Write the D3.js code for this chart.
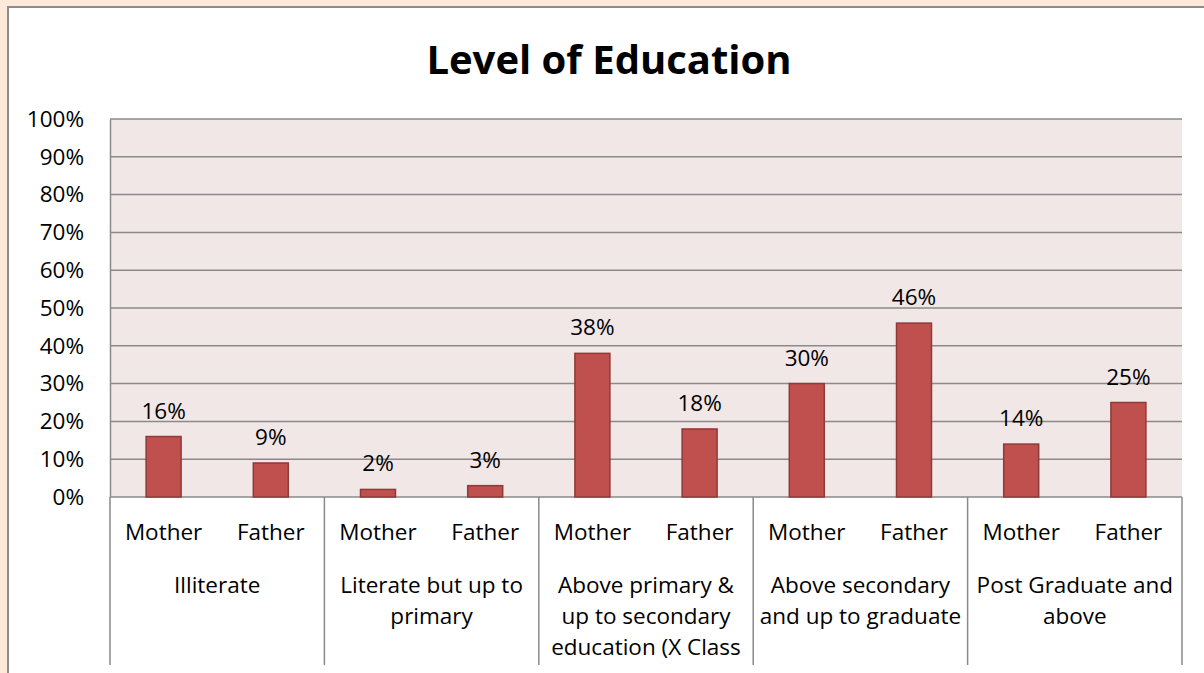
<!DOCTYPE html>
<html>
<head>
<meta charset="utf-8">
<script src="https://cdn.jsdelivr.net/npm/d3@7"></script>
<style>
  body { margin: 0; background: #fde9d9; }
  svg { display: block; font-family: "Open Sans", "Noto Sans", sans-serif; }
</style>
</head>
<body>
<div id="chart"></div>
<script>
// Data
const categories = [
  ["Illiterate"],
  ["Literate but up to", "primary"],
  ["Above primary &", "up to secondary", "education (X Class"],
  ["Above secondary", "and up to graduate"],
  ["Post Graduate and", "above"]
];
const groups = ["Mother", "Father"];
const mother = [16, 2, 38, 30, 14];
const father = [9, 3, 18, 46, 25];
const yTicks = [0, 10, 20, 30, 40, 50, 60, 70, 80, 90, 100];

const width = 1204, height = 673;
const plot = { left: 110, right: 1182, top: 119, bottom: 497 };
const fontSize = "22.5px";

let svg = d3.select("#chart").append("svg")
    .attr("width", width)
    .attr("height", height);

// white chart box
svg.append("rect")
    .attr("x", 8).attr("y", 7)
    .attr("width", 1220).attr("height", 700)
    .attr("fill", "#ffffff")
    .attr("stroke", "#8c8c8c")
    .attr("stroke-width", 2);

// Title
svg.append("text")
    .attr("x", 609).attr("y", 74)
    .attr("text-anchor", "middle")
    .attr("font-size", "40px")
    .attr("font-weight", "bold")
    .attr("fill", "#000")
    .text("Level of Education");

// Scales
let x0 = d3.scaleBand()
    .domain(d3.range(categories.length))
    .range([plot.left, plot.right]);

let x1 = d3.scaleBand()
    .domain(groups)
    .range([0, x0.bandwidth()]);

let y = d3.scaleLinear()
    .domain([0, 100])
    .range([plot.bottom, plot.top]);

// Plot background
svg.append("rect")
    .attr("x", plot.left).attr("y", plot.top)
    .attr("width", plot.right - plot.left)
    .attr("height", plot.bottom - plot.top)
    .attr("fill", "#f2e7e7");

// Gridlines
svg.append("g")
    .selectAll("line")
    .data(yTicks)
    .enter().append("line")
    .attr("x1", plot.left).attr("x2", plot.right)
    .attr("y1", d => y(d)).attr("y2", d => y(d))
    .attr("stroke", "#8a8a8a")
    .attr("stroke-width", 1.5);

// y axis
let yAxis = svg.append("g")
    .attr("transform", `translate(${plot.left},0)`)
    .call(d3.axisLeft(y).tickValues(yTicks).tickFormat(d => d + "%").tickSize(0).tickPadding(26));
yAxis.select(".domain").attr("stroke", "#8a8a8a").attr("stroke-width", 1.5);
yAxis.selectAll("text")
    .attr("font-size", fontSize)
    .attr("fill", "#000")
    .attr("font-family", "'Open Sans', 'Noto Sans', sans-serif");

// Bars
let rows = [];
categories.forEach((c, i) => {
    rows.push({ cat: i, group: "Mother", value: mother[i] });
    rows.push({ cat: i, group: "Father", value: father[i] });
});

const barW = 35;
let barX = d => x0(d.cat) + x1(d.group) + x1.bandwidth() / 2 - barW / 2;

svg.append("g")
    .selectAll("rect")
    .data(rows)
    .enter().append("rect")
    .attr("x", barX)
    .attr("y", d => y(d.value))
    .attr("width", barW)
    .attr("height", d => y(0) - y(d.value))
    .attr("fill", "#c0504d")
    .attr("stroke", "#8e3a38")
    .attr("stroke-width", 1.5);

// Data labels
svg.append("g")
    .selectAll("text")
    .data(rows)
    .enter().append("text")
    .attr("x", d => barX(d) + barW / 2)
    .attr("y", d => y(d.value) - 18)
    .attr("text-anchor", "middle")
    .attr("font-size", fontSize)
    .attr("fill", "#000")
    .text(d => d.value + "%");

// Category separators (multi-level axis)
const sepBottom = 665;
let seps = d3.range(categories.length + 1);
svg.append("g")
    .selectAll("line")
    .data(seps)
    .enter().append("line")
    .attr("x1", d => d < categories.length ? x0(d) : plot.right)
    .attr("x2", d => d < categories.length ? x0(d) : plot.right)
    .attr("y1", plot.bottom)
    .attr("y2", sepBottom)
    .attr("stroke", "#8a8a8a")
    .attr("stroke-width", 1.5);

// Mother / Father labels
svg.append("g")
    .selectAll("text")
    .data(rows)
    .enter().append("text")
    .attr("x", d => barX(d) + barW / 2)
    .attr("y", 540)
    .attr("text-anchor", "middle")
    .attr("font-size", fontSize)
    .attr("fill", "#000")
    .text(d => d.group);

// Category labels
let catText = svg.append("g")
    .selectAll("text")
    .data(categories)
    .enter().append("text")
    .attr("x", (d, i) => x0(i) + x0.bandwidth() / 2)
    .attr("y", 593)
    .attr("text-anchor", "middle")
    .attr("font-size", fontSize)
    .attr("fill", "#000");

catText.selectAll("tspan")
    .data(d => d)
    .enter().append("tspan")
    .attr("x", function () { return d3.select(this.parentNode).attr("x"); })
    .attr("dy", (d, i) => i === 0 ? 0 : 31)
    .text(d => d);
</script>
</body>
</html>
